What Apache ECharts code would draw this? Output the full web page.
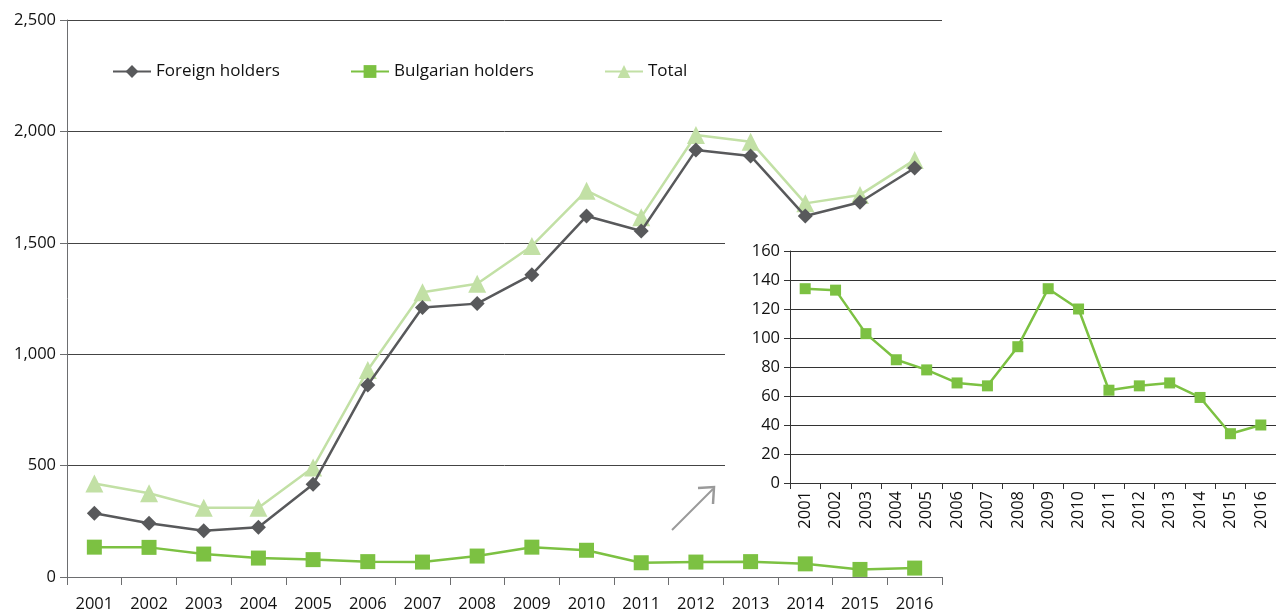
<!DOCTYPE html>
<html>
<head>
<meta charset="utf-8">
<script src="https://cdn.jsdelivr.net/npm/echarts@6/dist/echarts.min.js"></script>
<style>
  html, body { margin: 0; padding: 0; background: #fff; overflow: hidden; }
  #main { position: absolute; left: 0; top: 0; width: 1276px; height: 613px; }
  #inset { position: absolute; left: 725px; top: 238px; width: 551px; height: 305px; background: #fff; }
</style>
</head>
<body>
<div id="main"></div>
<div id="inset"></div>
<script>
// data
var years = ['2001', '2002', '2003', '2004', '2005', '2006', '2007', '2008',
  '2009', '2010', '2011', '2012', '2013', '2014', '2015', '2016']
var foreignHolders = [286, 241, 208, 223, 416, 862, 1210, 1227, 1357, 1620, 1553, 1916, 1890, 1620, 1682, 1836]
var bulgarianHolders = [134, 133, 103, 85, 78, 69, 67, 94, 134, 120, 64, 67, 69, 59, 34, 40]
var totalHolders = [420, 376, 311, 311, 491, 929, 1278, 1316, 1486, 1734, 1615, 1984, 1954, 1677, 1715, 1872]

var darkGrey = '#58595b'
var green = '#7cc142'
var lightGreen = '#c2e0a5'
var font = 'Open Sans'
var textColor = '#111'

function legendItem(name, left) {
  return {
    left: left,
    top: 58,
    itemWidth: 38,
    itemHeight: 16,
    itemGap: 0,
    textStyle: { fontFamily: font, fontSize: 17, color: textColor },
    data: [name]
  }
}

var mainChart = echarts.init(document.getElementById('main'))
mainChart.setOption({
  animation: false,
  legend: [
    legendItem('Foreign holders', 107),
    legendItem('Bulgarian holders', 345),
    legendItem('Total', 599)
  ],
  grid: { left: 67, right: 334, top: 20, bottom: 36 },
  xAxis: {
    type: 'category',
    data: years,
    boundaryGap: true,
    axisLine: { lineStyle: { color: '#6d6e70', width: 1 } },
    axisTick: { show: true, length: 8, lineStyle: { color: '#6d6e70' } },
    axisLabel: { fontFamily: font, fontSize: 16.5, color: textColor, margin: 19, interval: 0 }
  },
  yAxis: {
    type: 'value',
    min: 0,
    max: 2500,
    interval: 500,
    axisLine: { show: true, lineStyle: { color: '#6d6e70', width: 1 } },
    axisTick: { show: true, length: 7, lineStyle: { color: '#6d6e70' } },
    splitLine: { lineStyle: { color: '#444', width: 1 } },
    axisLabel: {
      fontFamily: font, fontSize: 16.5, color: textColor, margin: 11,
      formatter: function (v) { return v.toLocaleString('en-US') }
    }
  },
  series: [
    {
      name: 'Foreign holders',
      type: 'line',
      data: foreignHolders,
      symbol: 'diamond',
      symbolSize: 15,
      itemStyle: { color: darkGrey },
      lineStyle: { color: darkGrey, width: 2.5 },
      z: 3
    },
    {
      name: 'Bulgarian holders',
      type: 'line',
      data: bulgarianHolders,
      symbol: 'rect',
      symbolSize: 15,
      itemStyle: { color: green },
      lineStyle: { color: green, width: 2.5 }
    },
    {
      name: 'Total',
      type: 'line',
      data: totalHolders,
      symbol: 'triangle',
      symbolSize: 18,
      itemStyle: { color: lightGreen },
      lineStyle: { color: lightGreen, width: 2.5 },
      z: 2
    }
  ],
  graphic: [
    {
      type: 'line',
      shape: { x1: 672, y1: 530, x2: 713, y2: 489 },
      style: { stroke: '#9a9a9a', lineWidth: 2 }
    },
    {
      type: 'polyline',
      shape: { points: [[698, 488], [714, 487], [713, 504]] },
      style: { stroke: '#9a9a9a', lineWidth: 2.5, fill: null }
    }
  ]
})

var insetChart = echarts.init(document.getElementById('inset'))
insetChart.setOption({
  animation: false,
  grid: { left: 65, right: -4, top: 13, bottom: 60 },
  xAxis: {
    type: 'category',
    data: years,
    boundaryGap: true,
    axisLine: { lineStyle: { color: '#333', width: 1 } },
    axisTick: { show: true, length: 6, lineStyle: { color: '#333' } },
    axisLabel: { fontFamily: font, fontSize: 16.5, color: textColor, rotate: 90, margin: 8, interval: 0 }
  },
  yAxis: {
    type: 'value',
    min: 0,
    max: 160,
    interval: 20,
    axisLine: { show: true, lineStyle: { color: '#333', width: 1 } },
    axisTick: { show: true, length: 6, lineStyle: { color: '#333' } },
    splitLine: { lineStyle: { color: '#333', width: 1 } },
    axisLabel: { fontFamily: font, fontSize: 16.5, color: textColor, margin: 10 }
  },
  series: [
    {
      name: 'Bulgarian holders',
      type: 'line',
      data: bulgarianHolders,
      symbol: 'rect',
      symbolSize: 11,
      itemStyle: { color: green },
      lineStyle: { color: green, width: 2.5 }
    }
  ]
})
</script>
</body>
</html>
